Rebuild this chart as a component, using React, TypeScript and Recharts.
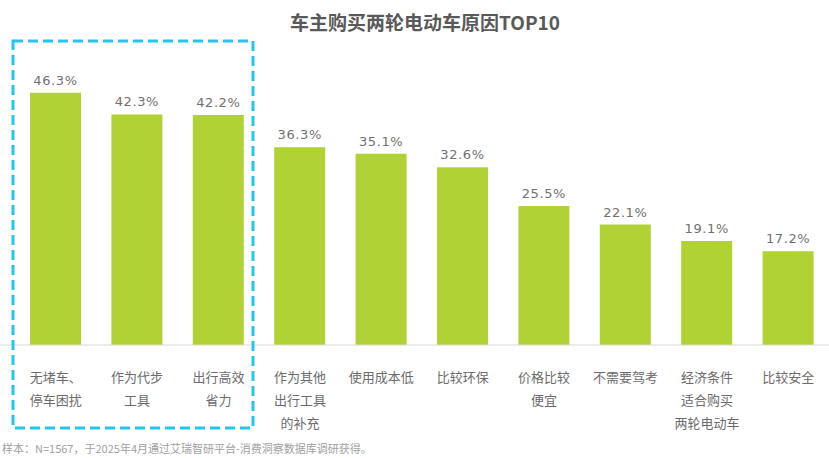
import { BarChart, Bar, XAxis, YAxis, LabelList } from "recharts";

const categories = [
  "无堵车、\n停车困扰",
  "作为代步\n工具",
  "出行高效\n省力",
  "作为其他\n出行工具\n的补充",
  "使用成本低",
  "比较环保",
  "价格比较\n便宜",
  "不需要驾考",
  "经济条件\n适合购买\n两轮电动车",
  "比较安全",
];
const shares = [46.3, 42.3, 42.2, 36.3, 35.1, 32.6, 25.5, 22.1, 19.1, 17.2];

const data = categories.map((name, i) => ({ name, value: shares[i] }));

const CJK = '"Noto Sans CJK SC", "Noto Sans", sans-serif';

const CategoryTick = (props: any) => {
  const { x, y, payload } = props;
  const lines = String(payload.value).split("\n");
  return (
    <g transform={`translate(${x},${y})`}>
      {lines.map((line, i) => (
        <text
          key={i}
          x={0}
          y={23 + i * 23}
          textAnchor="middle"
          dominantBaseline="central"
          fontSize={13}
          fill="#6b6b6b"
          fontFamily={CJK}
        >
          {line}
        </text>
      ))}
    </g>
  );
};

export default function App() {
  return (
    <div
      style={{
        position: "absolute",
        left: 0,
        top: 0,
        width: 829,
        height: 458,
        background: "#fff",
        fontFamily: CJK,
      }}
    >
      <div
        style={{
          position: "absolute",
          top: 8,
          left: 0,
          width: 850,
          textAlign: "center",
          fontSize: 19,
          fontWeight: 700,
          color: "#595959",
          lineHeight: "28px",
        }}
      >
        车主购买两轮电动车原因TOP10
      </div>
      <BarChart
        width={829}
        height={458}
        data={data}
        margin={{ top: 72.5, right: 0, left: 0, bottom: 0 }}
      >
        <XAxis
          dataKey="name"
          height={113}
          interval={0}
          padding={{ left: 15, right: 0 }}
          axisLine={{ stroke: "#d9d9d9" }}
          tickLine={false}
          tick={<CategoryTick />}
        />
        <YAxis hide domain={[0, 50]} />
        <Bar dataKey="value" fill="#b1d235" barSize={51} isAnimationActive={false}>
          <LabelList
            dataKey="value"
            position="top"
            offset={8}
            formatter={(v: any) => `${v}%`}
            fill="#707070"
            fontSize={13}
            letterSpacing={0.6}
            fontFamily='"DejaVu Sans", Verdana, sans-serif'
          />
        </Bar>
      </BarChart>
      {/* highlight frame around the top three reasons */}
      <svg
        width={829}
        height={458}
        style={{ position: "absolute", left: 0, top: 0, pointerEvents: "none" }}
      >
        <rect
          x={13}
          y={41}
          width={240}
          height={387}
          fill="none"
          stroke="#22c7f0"
          strokeWidth={3}
          strokeDasharray="10 5"
        />
      </svg>
      <div
        style={{
          position: "absolute",
          left: 2,
          top: 441,
          fontSize: 11,
          color: "#a0a0a0",
          lineHeight: "14px",
          whiteSpace: "nowrap",
        }}
      >
        样本：N=1567，于2025年4月通过艾瑞智研平台-消费洞察数据库调研获得。
      </div>
    </div>
  );
}
